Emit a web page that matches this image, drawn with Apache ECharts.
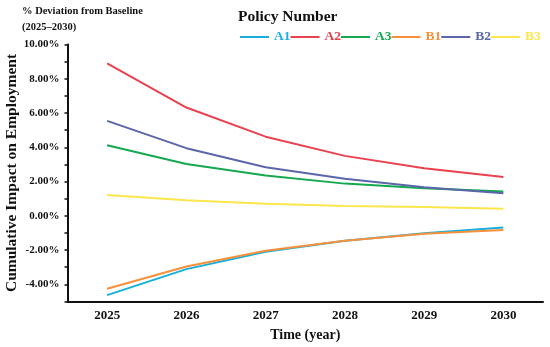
<!DOCTYPE html>
<html><head><meta charset="utf-8">
<script src="https://cdn.jsdelivr.net/npm/echarts@6/dist/echarts.min.js"></script>
<style>html,body{margin:0;padding:0;background:#fff}#c{width:550px;height:347px}</style>
</head><body><div id="c"></div>
<script>
const years = ['2025','2026','2027','2028','2029','2030'];
const seriesNames = ['A1','A2','A3','B1','B2','B3'];
const A1 = [-4.63, -3.11, -2.10, -1.46, -1.01, -0.68];
const A2 = [8.90, 6.32, 4.62, 3.50, 2.78, 2.26];
const A3 = [4.12, 3.03, 2.35, 1.88, 1.61, 1.42];
const B1 = [-4.26, -2.96, -2.04, -1.46, -1.05, -0.82];
const B2 = [5.54, 3.95, 2.84, 2.16, 1.67, 1.32];
const B3 = [1.22, 0.91, 0.70, 0.58, 0.51, 0.41];
const colors = ['#17b0dc', '#e8424f', '#14a84f', '#f7903a', '#5a66a9', '#fbe64c'];
const values = [A1, A2, A3, B1, B2, B3];
const font = '"Liberation Serif", "Times New Roman", serif';

const chart = echarts.init(document.getElementById('c'), null, {renderer: 'canvas'});
chart.setOption({
  animation: false,
  textStyle: {fontFamily: font},
  color: colors,
  grid: {left: 67.5, right: 7, top: 44.5, bottom: 45.5, containLabel: false, outerBoundsMode: 'none'},
  graphic: [
    {type: 'text', left: 22, top: 5.5, style: {text: '% Deviation from Baseline', font: 'bold 10.5px ' + font, fill: '#111'}},
    {type: 'text', left: 22, top: 21.5, style: {text: '(2025\u20132030)', font: 'bold 10.5px ' + font, fill: '#111'}},
    {type: 'text', left: 238, top: 8.5, style: {text: 'Policy Number', font: 'bold 15.5px ' + font, fill: '#111'}}
  ],
  legend: {
    left: 240, top: 30, padding: 0, width: 340, icon: 'rect', itemWidth: 29, itemHeight: 2, itemGap: 0,
    textStyle: {fontFamily: font, fontWeight: 'bold', fontSize: 13.5},
    data: seriesNames.map((n, i) => ({name: n, textStyle: {color: colors[i]}}))
  },
  xAxis: {
    type: 'category', data: years, boundaryGap: true,
    name: 'Time (year)', nameLocation: 'middle', nameGap: 27,
    nameTextStyle: {fontFamily: font, fontWeight: 'bold', fontSize: 14, color: '#111'},
    axisLine: {onZero: false, lineStyle: {color: '#111', width: 2}},
    axisTick: {alignWithLabel: true, length: 4, lineStyle: {color: '#111', width: 1.5}},
    axisLabel: {fontFamily: font, fontWeight: 'bold', fontSize: 13, color: '#111', margin: 8}
  },
  yAxis: {
    type: 'value', min: -5, max: 10, interval: 1,
    name: 'Cumulative Impact on Employment', nameLocation: 'middle', nameGap: 48, nameMoveOverlap: false,
    nameTextStyle: {fontFamily: font, fontWeight: 'bold', fontSize: 15.5, color: '#111'},
    axisLine: {show: true, lineStyle: {color: '#111', width: 2}},
    axisTick: {show: true, length: 3, lineStyle: {color: '#111', width: 1.5}},
    splitLine: {show: false},
    axisLabel: {
      fontFamily: font, fontWeight: 'bold', fontSize: 11, color: '#111', margin: 8,
      formatter: v => (Math.round(v) % 2 === 0 ? v.toFixed(2) + '%' : '')
    }
  },
  series: seriesNames.map((n, i) => ({
    name: n, type: 'line', data: values[i], symbol: 'none', smooth: false,
    lineStyle: {width: 2, color: colors[i]}, itemStyle: {color: colors[i]}
  }))
});
</script></body></html>
